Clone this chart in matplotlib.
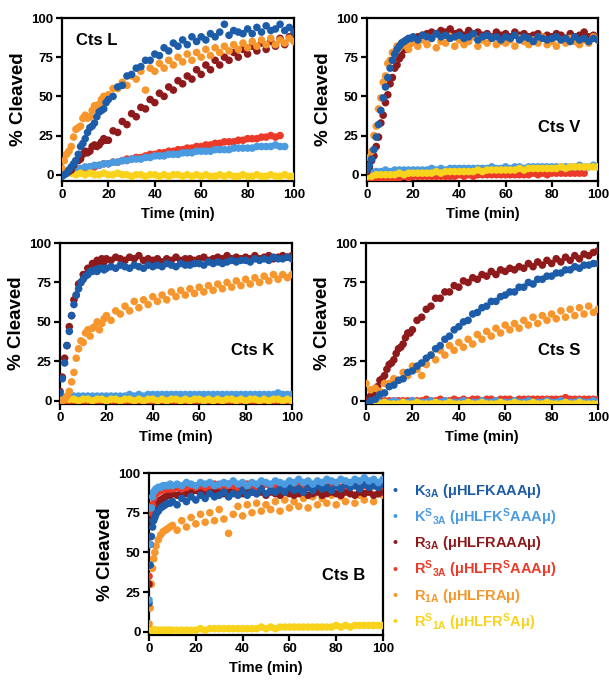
import matplotlib
matplotlib.use("Agg")
import matplotlib.pyplot as plt

plt.rcParams['font.family'] = ['Liberation Sans', 'DejaVu Sans']
plt.rcParams['font.weight'] = 'bold'
plt.rcParams['mathtext.fontset'] = 'custom'
plt.rcParams['mathtext.rm'] = 'Liberation Sans:bold'
plt.rcParams['mathtext.bf'] = 'Liberation Sans:bold'
plt.rcParams['mathtext.it'] = 'Liberation Sans:bold'

# ---------------- data ----------------
# time points (min)
TIME = [0, 2, 4, 6, 8, 10, 12, 14, 16, 18, 20, 22, 24, 26, 28, 30, 32, 34, 36, 38,
        40, 42, 44, 46, 48, 50, 52, 54, 56, 58, 60, 62, 64, 66, 68, 70, 72, 74, 76, 78,
        80, 82, 84, 86, 88, 90, 92, 94, 96, 98, 100]
TIME_FAST = [0, 1, 2, 3, 4, 5, 6, 7, 8, 9, 10, 11, 12, 13, 14, 15, 16, 17, 18, 19, 20,
             22, 24, 26, 28, 30, 32, 34, 36, 38,
             40, 42, 44, 46, 48, 50, 52, 54, 56, 58, 60, 62, 64, 66, 68, 70, 72, 74, 76, 78,
             80, 82, 84, 86, 88, 90, 92, 94, 96, 98, 100]
TIME_B = [0, 0.5, 1, 1.5, 2, 2.5, 3, 4, 5, 6, 7, 8, 9,
          10, 12, 14, 16, 18, 20, 22, 24, 26, 28, 30, 32, 34, 36, 38,
          40, 42, 44, 46, 48, 50, 52, 54, 56, 58, 60, 62, 64, 66, 68, 70, 72, 74, 76, 78,
          80, 82, 84, 86, 88, 90, 92, 94, 96, 98, 100]

series_names = ['K3A', 'KS3A', 'R3A', 'RS3A', 'R1A', 'RS1A']
legend_labels = [r'$\mathbf{K_{3A}}$ (μHLFKAAAμ)',
                 r'$\mathbf{K^{S}}$$\mathbf{_{3A}}$ (μHLFK$\mathbf{^{S}}$AAAμ)',
                 r'$\mathbf{R_{3A}}$ (μHLFRAAAμ)',
                 r'$\mathbf{R^{S}}$$\mathbf{_{3A}}$ (μHLFR$\mathbf{^{S}}$AAAμ)',
                 r'$\mathbf{R_{1A}}$ (μHLFRAμ)',
                 r'$\mathbf{R^{S}}$$\mathbf{_{1A}}$ (μHLFR$\mathbf{^{S}}$Aμ)']
colors = {'K3A': '#1c5ca8', 'KS3A': '#4b9be0', 'R3A': '#8e1a1c',
          'RS3A': '#ec3a2a', 'R1A': '#f7962d', 'RS1A': '#f9d21c'}

# Cts L  (main series on TIME_FAST, slow series on TIME)
L_K3A = [-1, 0, 1, 3, 5, 7, 9, 13, 18, 20, 23, 27, 30, 31, 33, 37, 40, 41, 42, 46, 48,
         50, 56, 57, 63, 64, 68, 69, 73, 73,
         77, 76, 81, 79, 84, 82, 86, 83, 88, 85,
         88, 86, 90, 88, 91, 96, 89, 92, 91, 90,
         93, 90, 94, 91, 95, 92, 93, 96, 92, 94,
         91]
L_R1A = [4, 9, 13, 15, 18, 24, 29, 30, 31, 36, 38, 36, 37, 41, 44, 43, 45, 48, 50, 49, 51,
         55, 55, 59, 57, 63, 61, 66, 54, 68,
         66, 71, 68, 73, 70, 75, 72, 77, 73, 78,
         75, 80, 76, 81, 78, 82, 79, 83, 80, 84,
         81, 85, 82, 86, 83, 87, 83, 86, 84, 87,
         85]
L_R3A = [0, 1, 2, 2, 3, 6, 9, 9, 10, 13, 15, 14, 15, 18, 19, 18, 19, 21, 23, 22, 22,
         28, 27, 34, 32, 39, 37, 43, 42, 48,
         46, 52, 50, 56, 54, 60, 58, 63, 61, 67,
         64, 70, 67, 73, 70, 75, 73, 78, 75, 80,
         77, 82, 79, 84, 80, 85, 82, 87, 83, 88,
         86]
L_KS3A = [1, 2, 3, 4, 4, 5, 5, 6, 6, 7,
          7, 8, 8, 9, 9, 10, 10, 10, 11, 11,
          12, 12, 12, 13, 13, 13, 14, 14, 14, 15,
          15, 15, 15, 16, 16, 16, 16, 17, 17, 17,
          17, 17, 18, 18, 18, 18, 19, 18, 18]
L_RS3A = [0, 1, 2, 3, 3, 4, 5, 5, 6, 7,
          7, 8, 8, 9, 10, 10, 11, 11, 12, 13,
          13, 14, 14, 15, 15, 16, 16, 17, 17, 18,
          18, 19, 19, 20, 20, 21, 21, 21, 22, 22,
          23, 23, 23, 24, 24, 25, 24, 25]
L_RS1A = [0, 1, 1, 0, 1, 0, 1, 0, 0, 1,
          0, 0, 1, 0, 0, -1, 0, 0, -1, 0,
          0, -1, 0, -1, 0, 0, -1, 0, -1, 0,
          -1, 0, -1, -1, 0, -1, 0, -1, -1, 0,
          -1, -1, 0, -1, -1, 0, -1, -1, 0, -1,
          -1]

# Cts V  (fast series use TIME_FAST, slow series use TIME)
V_K3A = [3, 6, 10, 16, 24, 32, 41, 49, 56, 62, 68, 73, 77, 80, 82, 84, 85, 86, 87, 87, 88,
         86, 89, 88, 87, 90, 88, 89, 87, 88,
         89, 87, 88, 90, 86, 88, 89, 87, 88, 86,
         88, 87, 89, 86, 88, 87, 85, 88, 87, 86,
         87, 88, 86, 87, 85, 88, 86, 87, 85, 87,
         86]
V_R3A = [2, 5, 9, 12, 18, 24, 33, 38, 46, 51, 58, 62, 68, 70, 74, 76, 80, 80, 83, 84, 86,
         88, 89, 90, 91, 90, 92, 91, 93, 90,
         91, 89, 92, 90, 91, 89, 90, 88, 91, 89,
         90, 88, 91, 89, 90, 88, 89, 90, 88, 89,
         88, 90, 89, 87, 90, 88, 89, 91, 88, 89,
         88]
V_R1A = [5, 11, 15, 25, 31, 42, 49, 59, 63, 71, 73, 78, 78, 82, 81, 84, 83, 82, 80, 84, 85,
         82, 86, 83, 87, 81, 85, 84, 88, 82,
         86, 83, 85, 88, 82, 86, 84, 87, 83, 85,
         84, 86, 82, 87, 85, 83, 86, 84, 88, 83,
         85, 82, 86, 84, 87, 85, 83, 86, 84, 88,
         86]
V_KS3A = [1, 2, 2, 2, 3, 2, 3, 3, 3, 3,
          3, 3, 3, 3, 4, 3, 4, 3, 4, 4,
          4, 4, 4, 4, 4, 4, 4, 5, 4, 4,
          5, 4, 5, 5, 4, 5, 5, 5, 5, 5,
          5, 5, 5, 5, 5, 5, 6, 5, 5, 6,
          5]
V_RS3A = [-2, -2, -2, -2, -2, -2, -2, -2, -1, -2,
          -1, -1, -1, -1, -1, -1, -1, -1, -1, -1,
          0, -1, 0, -1, 0, 0, 0, 0, 0, 0,
          0, 0, 0, 0, 0, 0, 1, 0, 1, 0,
          1, 1, 1, 1, 1, 1, 1, 1]
V_RS1A = [-1, -1, 0, 0, 0, 0, 0, 1, 0, 1,
          1, 1, 1, 1, 1, 2, 1, 2, 2, 2,
          2, 2, 2, 2, 3, 2, 3, 3, 3, 3,
          3, 3, 3, 4, 3, 4, 4, 4, 4, 4,
          4, 4, 5, 4, 5, 5, 5, 5, 5, 5,
          5]

# Cts K  (fast series use TIME_FAST, slow series use TIME)
K_K3A = [5, 14, 24, 35, 44, 54, 61, 67, 71, 75, 77, 79, 80, 82, 82, 83, 82, 84, 84, 83, 84,
         85, 84, 86, 85, 84, 86, 85, 84, 86,
         85, 86, 85, 87, 86, 85, 87, 86, 86, 87,
         87, 86, 88, 87, 88, 87, 88, 89, 88, 89,
         89, 88, 90, 89, 90, 89, 91, 90, 90, 91,
         90]
K_R3A = [6, 15, 27, 35, 47, 54, 64, 67, 74, 75, 80, 80, 84, 84, 87, 86, 89, 87, 90, 88, 90,
         89, 91, 90, 89, 91, 90, 92, 89, 90,
         89, 90, 88, 90, 89, 91, 89, 90, 90, 89,
         90, 91, 89, 90, 91, 90, 92, 90, 91, 90,
         91, 90, 92, 90, 91, 92, 90, 91, 92, 91,
         92]
K_R1A = [-1, 0, 1, 3, 6, 12, 18, 27, 33, 38, 37, 43, 45, 41, 46, 47, 50, 45, 49, 52, 54,
         51, 57, 55, 60, 57, 63, 59, 64, 61,
         66, 63, 67, 64, 69, 66, 70, 67, 71, 68,
         72, 69, 73, 70, 74, 71, 75, 72, 76, 73,
         77, 74, 78, 75, 79, 76, 80, 77, 80, 78,
         80]
K_KS3A = [1, 2, 3, 3, 3, 3, 3, 3, 3, 3,
          3, 3, 3, 3, 3, 4, 3, 4, 3, 4,
          4, 4, 4, 4, 4, 4, 4, 4, 4, 4,
          4, 4, 4, 4, 4, 4, 4, 4, 4, 4,
          4, 4, 4, 4, 4, 4, 4, 5, 4, 4,
          4]
K_RS3A = [-2, -2, -2, -1, -2, -2, -1, -2, -1, -2,
          -1, -2, -1, -1, -2, -1, -1, -2, -1, -1,
          -1, -2, -1, -1, -1, -1, -2, -1, -1, -1,
          -1, -1, -1, -1, -1, -1, -1, -1, -1, -1,
          -1, -1, 0, -1, -1, -1, -1, 0, -1, -1,
          -1]
K_RS1A = [0, 1, 1, 1, 0, 1, 1, 0, 1, 1,
          0, 1, 1, 0, 1, 1, 0, 1, 0, 1,
          1, 0, 1, 0, 1, 1, 0, 1, 0, 1,
          1, 0, 1, 0, 1, 0, 1, 1, 0, 1,
          0, 1, 1, 0, 1, 0, 1, 1, 0, 1,
          0]

# Cts S  (R3A on TIME_FAST, others on TIME)
S_R3A = [0, 1, 3, 4, 6, 9, 13, 14, 16, 20, 23, 24, 26, 30, 33, 34, 36, 40, 43, 43, 45,
         51, 53, 58, 60, 65, 65, 69, 69, 73,
         72, 76, 75, 78, 77, 80, 79, 82, 80, 83,
         82, 84, 83, 85, 84, 87, 85, 88, 86, 89,
         87, 90, 88, 91, 89, 92, 90, 93, 92, 94,
         95]
S_K3A = [-2, 0, 1, 4, 5, 9, 10, 13, 14, 18,
         19, 22, 24, 27, 29, 33, 35, 39, 41, 45,
         47, 50, 51, 55, 56, 59, 60, 63, 63, 66,
         67, 69, 69, 72, 72, 75, 74, 77, 77, 79,
         79, 81, 81, 83, 83, 85, 84, 86, 86, 87,
         87]
S_KS3A = [-1, -1, 0, -1, -1, -1, 0, -1, -1, -1,
          0, -1, -1, -1, 0, -1, -1, 0, -1, -1,
          -1, 0, -1, -1, -1, 0, -1, -1, 0, -1,
          -1, -1, 0, -1, -1, 0, -1, -1, -1, 0,
          -1, -1, 0, -1, -1, -1, 0, -1, -1, 0,
          -1]
S_RS3A = [0, 0, 0, 0, 0, 0, 0, 0, 0, 0,
          0, 0, 0, 1, 0, 0, 1, 0, 0, 1,
          0, 1, 0, 1, 1, 0, 1, 1, 0, 1,
          1, 1, 0, 1, 1, 1, 1, 1, 1, 1,
          1, 1, 1, 2, 1, 1, 1, 1, 1, 1,
          1]
S_R1A = [11, 7, 8, 6, 11, 11, 14, 13, 18, 16,
         22, 20, 16, 23, 29, 26, 32, 29, 35, 32,
         37, 34, 39, 36, 42, 39, 44, 41, 46, 43,
         48, 45, 49, 46, 51, 48, 53, 49, 54, 51,
         55, 52, 57, 53, 58, 54, 59, 55, 60, 56,
         58]
S_RS1A = [-2, -1, -2, -2, -1, -2, -2, -2, -1, -2,
          -2, -1, -2, -2, -2, -1, -2, -2, -1, -2,
          -2, -2, -1, -2, -2, -1, -2, -2, -2, -1,
          -2, -2, -1, -2, -2, -2, -1, -2, -2, -1,
          -2, -2, -2, -1, -2, -2, -1, -2, -2, -2,
          -2]

# Cts B  (TIME_B)
B_K3A = [18, 42, 60, 66, 70, 72, 74, 76, 78, 79, 80, 81, 81,
         82, 80, 84, 82, 85, 83, 86, 84, 87, 85, 86, 88, 85, 87, 86,
         89, 86, 88, 87, 90, 87, 89, 88, 90, 88, 91, 89, 90, 88, 91,
         89, 92, 90, 91, 89, 92, 90, 93, 91, 92, 90, 93, 91, 92, 91, 93]
B_KS3A = [20, 55, 78, 85, 88, 89, 90, 91, 91, 92, 92, 92, 93,
          92, 93, 92, 94, 93, 92, 94, 93, 94, 92, 93, 94, 93, 95, 93,
          94, 92, 94, 93, 95, 94, 93, 95, 94, 93, 95, 94, 96, 94, 95,
          93, 95, 94, 96, 95, 94, 96, 95, 94, 96, 95, 97, 95, 96, 94, 96]
B_R3A = [30, 55, 70, 74, 76, 78, 80, 82, 83, 84, 85, 86, 86,
         87, 86, 88, 87, 88, 89, 88, 87, 89, 88, 89, 87, 88, 89, 88,
         87, 89, 88, 87, 88, 86, 88, 87, 86, 88, 87, 86, 87, 88, 86,
         87, 88, 86, 87, 88, 87, 86, 88, 87, 86, 88, 87, 88, 86, 87, 88]
B_RS3A = [35, 60, 75, 80, 84, 86, 87, 88, 89, 89, 90, 90, 90,
          90, 91, 90, 91, 92, 91, 92, 91, 92, 93, 92, 91, 93, 92, 91,
          92, 93, 92, 91, 92, 93, 92, 91, 93, 92, 91, 92, 93, 92, 91,
          92, 93, 92, 91, 93, 92, 91, 92, 93, 92, 91, 92, 93, 92, 91, 92]
B_R1A = [5, 15, 30, 40, 46, 50, 54, 58, 61, 63, 64, 65, 66,
         67, 64, 70, 66, 72, 68, 74, 69, 75, 70, 77, 71, 62, 74, 79,
         73, 80, 75, 81, 76, 80, 77, 82, 76, 83, 78, 82, 79, 84, 78,
         85, 80, 84, 81, 86, 80, 85, 82, 87, 81, 86, 83, 88, 82, 87, 86]
B_RS1A = [3, 2, 1, 1, 1, 1, 1, 1, 1, 1, 1, 1, 1,
          1, 1, 1, 1, 1, 1, 2, 1, 2, 2, 2, 2, 2, 2, 2,
          2, 2, 2, 2, 3, 2, 3, 2, 3, 3, 3, 3, 3, 3, 3,
          3, 3, 3, 3, 3, 4, 3, 4, 3, 4, 4, 4, 4, 4, 4, 4]

panels = [
    dict(name='Cts L', data=dict(K3A=(TIME_FAST, L_K3A), KS3A=(TIME, L_KS3A), R3A=(TIME_FAST, L_R3A),
                                 RS3A=(TIME, L_RS3A), R1A=(TIME_FAST, L_R1A), RS1A=(TIME, L_RS1A))),
    dict(name='Cts V', data=dict(K3A=(TIME_FAST, V_K3A), KS3A=(TIME, V_KS3A), R3A=(TIME_FAST, V_R3A),
                                 RS3A=(TIME, V_RS3A), R1A=(TIME_FAST, V_R1A), RS1A=(TIME, V_RS1A))),
    dict(name='Cts K', data=dict(K3A=(TIME_FAST, K_K3A), KS3A=(TIME, K_KS3A), R3A=(TIME_FAST, K_R3A),
                                 RS3A=(TIME, K_RS3A), R1A=(TIME_FAST, K_R1A), RS1A=(TIME, K_RS1A))),
    dict(name='Cts S', data=dict(K3A=(TIME, S_K3A), KS3A=(TIME, S_KS3A), R3A=(TIME_FAST, S_R3A),
                                 RS3A=(TIME, S_RS3A), R1A=(TIME, S_R1A), RS1A=(TIME, S_RS1A))),
    dict(name='Cts B', data=dict(K3A=(TIME_B, B_K3A), KS3A=(TIME_B, B_KS3A), R3A=(TIME_B, B_R3A),
                                 RS3A=(TIME_B, B_RS3A), R1A=(TIME_B, B_R1A), RS1A=(TIME_B, B_RS1A))),
]

# ---------------- layout ----------------
W, H = 609, 685
# (left, top, right, bottom) in pixels
boxes = [(62, 18, 294, 181), (367, 18, 598, 181),
         (60, 243, 292, 404), (366, 243, 598, 404),
         (149, 473, 383, 635)]
label_pos = [(0.06, 0.86), (0.74, 0.33), (0.735, 0.33), (0.74, 0.33), (0.74, 0.37)]
ylow = [-4, -4, -2, -2, -2]

draw_order = ['RS3A', 'KS3A', 'RS1A', 'R3A', 'R1A', 'K3A']
draw_order_B = ['RS1A', 'R1A', 'R3A', 'RS3A', 'K3A', 'KS3A']

fig = plt.figure(figsize=(W / 100, H / 100), dpi=100)

for i, p in enumerate(panels):
    l, t, r, b = boxes[i]
    ax = fig.add_axes([l / W, 1 - b / H, (r - l) / W, (b - t) / H])
    order = draw_order_B if p['name'] == 'Cts B' else draw_order
    for key in order:
        tt, vals = p['data'][key]
        n = min(len(vals), len(tt))
        ax.scatter(tt[:n], vals[:n], s=30, color=colors[key],
                   edgecolors='none', zorder=3)
    ax.set_xlim(0, 100)
    ax.set_ylim(ylow[i], 100)
    ax.set_xticks([0, 20, 40, 60, 80, 100])
    ax.set_yticks([0, 25, 50, 75, 100])
    ax.tick_params(direction='out', length=4, width=1.6, labelsize=9.5, pad=2)
    for lab in ax.get_xticklabels() + ax.get_yticklabels():
        lab.set_fontweight('bold')
    for sp in ax.spines.values():
        sp.set_linewidth(1.6)
    ax.set_xlabel('Time (min)', fontsize=10.5, fontweight='bold', labelpad=4)
    ax.set_ylabel('% Cleaved', fontsize=13.5, fontweight='bold', labelpad=3)
    lx, ly = label_pos[i]
    ax.text(lx, ly, p['name'], transform=ax.transAxes, fontsize=12,
            fontweight='bold', ha='left', va='center', zorder=5)

# legend (coloured text with dots)
for j, key in enumerate(series_names):
    y = 1 - (491 + 26.2 * j) / H
    fig.text(395 / W, y, '•', color=colors[key], fontsize=10, ha='center', va='center')
    fig.text(414 / W, y, legend_labels[j], color=colors[key], fontsize=10.5,
             fontweight='bold', ha='left', va='center')

fig.savefig('out.png', dpi=100)
